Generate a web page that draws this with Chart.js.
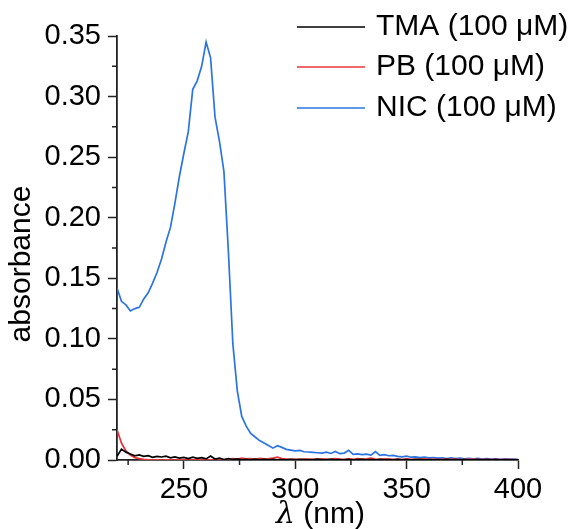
<!DOCTYPE html>
<html>
<head>
<meta charset="utf-8">
<script src="https://cdn.jsdelivr.net/npm/chart.js@4.4.1/dist/chart.umd.min.js"></script>
<style>
  html, body { margin: 0; padding: 0; background: #fff; }
  #wrap { width: 572px; height: 529px; }
</style>
</head>
<body>
<div id="wrap"><canvas id="spectrumChart"></canvas></div>
<script>
// wavelength (nm), 2 nm steps
let wavelengths = [220,222,224,226,228,230,232,234,236,238,240,242,244,246,248,250,252,254,256,258,
  260,262,264,266,268,270,272,274,276,278,280,282,284,286,288,290,292,294,296,298,
  300,302,304,306,308,310,312,314,316,318,320,322,324,326,328,330,332,334,336,338,
  340,342,344,346,348,350,352,354,356,358,360,362,364,366,368,370,372,374,376,378,
  380,382,384,386,388,390,392,394,396,398,400]

let tmaAbs = [0.003,0.009,0.0065,0.005,0.0035,0.0042,0.003,0.0036,0.0022,0.003,0.0025,0.0031,0.0018,0.0026,0.0016,0.0022,0.0012,0.0024,0.0013,0.0019,
  0.0009,0.0032,0.0008,0.0016,0.0004,0.0012,0.0003,0.0009,0.0002,0.0006,0.0001,0.0007,0.0002,0.0005,0.0001,0.0006,0.0002,0.0004,0.0001,0.0005,
  0.0002,0.0006,0.0001,0.0004,0.0002,0.0007,0.0001,0.0003,0.0005,0.0001,0.0004,0.0002,0.0006,0.0001,0.0003,0.0005,0.0002,0.0004,0.0001,0.0006,
  0.0002,0.0003,0.0001,0.0005,0.0002,0.0004,0.0001,0.0003,0.0005,0.0001,0.0004,0.0002,0.0003,0.0001,0.0005,0.0002,0.0003,0.0001,0.0004,0.0002,
  0.0001,0.0003,0.0002,0.0004,0.0001,0.0003,0.0002,0.0001,0.0003,0.0002,0.0001]

let pbAbs = [0.025,0.014,0.0075,0.004,0.002,0.0012,0.0006,0.0003,0.0001,0.0002,0,0.0002,0.0001,0,0.0002,0.0001,0,0.0002,0.0001,0.0003,
  0.0001,0.0002,0,0.0003,0.0002,0.0006,0.0012,0.0008,0.0015,0.0009,0.0011,0.0006,0.0014,0.0009,0.0012,0.0016,0.0024,0.0011,0.0008,0.0005,
  0.0007,0.0004,0.0009,0.0006,0.0008,0.0005,0.001,0.0006,0.0008,0.0012,0.0007,0.0005,0.0009,0.0006,0.0011,0.0007,0.0009,0.0015,0.0008,0.0006,
  0.0009,0.0007,0.0005,0.0008,0.0006,0.0009,0.0005,0.0007,0.0006,0.0009,0.0005,0.0007,0.0004,0.0008,0.0006,0.0005,0.0007,0.0004,0.0006,0.0005,
  0.0007,0.0004,0.0006,0.0005,0.0003,0.0006,0.0004,0.0005,0.0003,0.0004,0.0003]

let nicAbs = [0.142,0.131,0.128,0.123,0.125,0.126,0.133,0.138,0.146,0.155,0.166,0.180,0.192,0.212,0.234,0.253,0.271,0.306,0.313,0.325,
  0.345,0.332,0.283,0.263,0.238,0.172,0.096,0.057,0.036,0.028,0.022,0.019,0.016,0.014,0.012,0.0098,0.0118,0.0104,0.0088,0.0082,
  0.0076,0.0079,0.0068,0.0066,0.0063,0.006,0.0057,0.0065,0.0054,0.007,0.0052,0.0057,0.008,0.0047,0.0051,0.0044,0.0048,0.004,0.007,0.0038,
  0.0044,0.0035,0.0038,0.003,0.0026,0.0032,0.0023,0.0026,0.002,0.0024,0.0017,0.002,0.0015,0.0018,0.0012,0.0017,0.0011,0.0015,0.001,0.0014,
  0.0009,0.0013,0.0008,0.0011,0.0007,0.001,0.0006,0.0009,0.0005,0.0007,0.0004]

let seriesLabels = ['TMA (100 \u03bcM)', 'PB (100 \u03bcM)', 'NIC (100 \u03bcM)']
let seriesColors = ['#000000', '#e8363c', '#2b74e4']

let yMinorTicks = [0.025, 0.075, 0.125, 0.175, 0.225, 0.275, 0.325]
let xMinorTicks = [225, 275, 325, 375]

let FONT = 'Liberation Sans, Arial, sans-serif'

let pairUp = function(ys) {
  return wavelengths.map((x, i) => ({ x: x, y: ys[i] }))
}

// minor ticks, axis titles and the legend
let extrasPlugin = {
  id: 'extras',
  afterDraw(chart) {
    let ctx = chart.ctx
    let area = chart.chartArea
    let xs = chart.scales.x
    let ys = chart.scales.y
    ctx.save()
    ctx.strokeStyle = '#222'
    ctx.lineWidth = 1.5
    ctx.beginPath()
    for (let v of yMinorTicks) {
      let py = ys.getPixelForValue(v)
      ctx.moveTo(area.left - 5, py)
      ctx.lineTo(area.left, py)
    }
    for (let v of xMinorTicks) {
      let px = xs.getPixelForValue(v)
      ctx.moveTo(px, area.bottom)
      ctx.lineTo(px, area.bottom + 5)
    }
    ctx.stroke()

    ctx.fillStyle = '#000'
    // y title
    ctx.save()
    ctx.translate(22, (area.top + area.bottom) / 2 + 16)
    ctx.rotate(-Math.PI / 2)
    ctx.font = '30px ' + FONT
    ctx.textAlign = 'center'
    ctx.textBaseline = 'middle'
    ctx.fillText('absorbance', 0, 0)
    ctx.restore()

    // x title, italic lambda
    ctx.textBaseline = 'middle'
    ctx.textAlign = 'left'
    ctx.font = 'italic 30px DejaVu Serif, serif'
    let lam = '\u03bb'
    let lw = ctx.measureText(lam).width
    ctx.font = '30px ' + FONT
    let rest = ' (nm)'
    let rw = ctx.measureText(rest).width
    let cx = (area.left + area.right) / 2 + 3
    let startX = cx - (lw + rw) / 2
    ctx.font = 'italic 30px DejaVu Serif, serif'
    ctx.fillText(lam, startX, 515)
    ctx.font = '30px ' + FONT
    ctx.fillText(rest, startX + lw, 515)

    // legend
    let rows = [27, 67, 108]
    chart.data.datasets.forEach((ds, i) => {
      ctx.strokeStyle = ds.borderColor
      ctx.lineWidth = 1.5
      ctx.beginPath()
      ctx.moveTo(297, rows[i])
      ctx.lineTo(365, rows[i])
      ctx.stroke()
      ctx.fillStyle = '#000'
      ctx.font = '30px ' + FONT
      ctx.textBaseline = 'middle'
      ctx.fillText(ds.label, 376, rows[i])
    })
    ctx.restore()
  }
}

let ctx = document.getElementById('spectrumChart').getContext('2d')
new Chart(ctx, {
  type: 'line',
  data: {
    datasets: [
      { label: seriesLabels[0], data: pairUp(tmaAbs), borderColor: seriesColors[0] },
      { label: seriesLabels[1], data: pairUp(pbAbs), borderColor: seriesColors[1] },
      { label: seriesLabels[2], data: pairUp(nicAbs), borderColor: seriesColors[2] }
    ]
  },
  options: {
    responsive: true,
    maintainAspectRatio: false,
    animation: false,
    layout: { padding: { top: 36, right: 54, left: 0, bottom: 0 } },
    elements: {
      line: { borderWidth: 1.7, tension: 0 },
      point: { radius: 0 }
    },
    plugins: {
      legend: { display: false },
      tooltip: { enabled: false }
    },
    scales: {
      x: {
        type: 'linear',
        min: 220,
        max: 400,
        border: { color: '#222', width: 1.8 },
        grid: { drawOnChartArea: false, tickLength: 9, tickColor: '#222', tickWidth: 1.5 },
        ticks: { stepSize: 50, includeBounds: false, color: '#000', padding: 4, font: { family: FONT, size: 29 } },
        afterFit(scale) { scale.height = 69 }
      },
      y: {
        min: 0,
        max: 0.35,
        border: { color: '#222', width: 1.8 },
        grid: { drawOnChartArea: false, tickLength: 9, tickColor: '#222', tickWidth: 1.5 },
        ticks: {
          stepSize: 0.05,
          color: '#000',
          padding: 7,
          font: { family: FONT, size: 29 },
          callback: v => v.toFixed(2)
        },
        afterFit(scale) { scale.width = 117 }
      }
    }
  },
  plugins: [extrasPlugin]
})
</script>
</body>
</html>
